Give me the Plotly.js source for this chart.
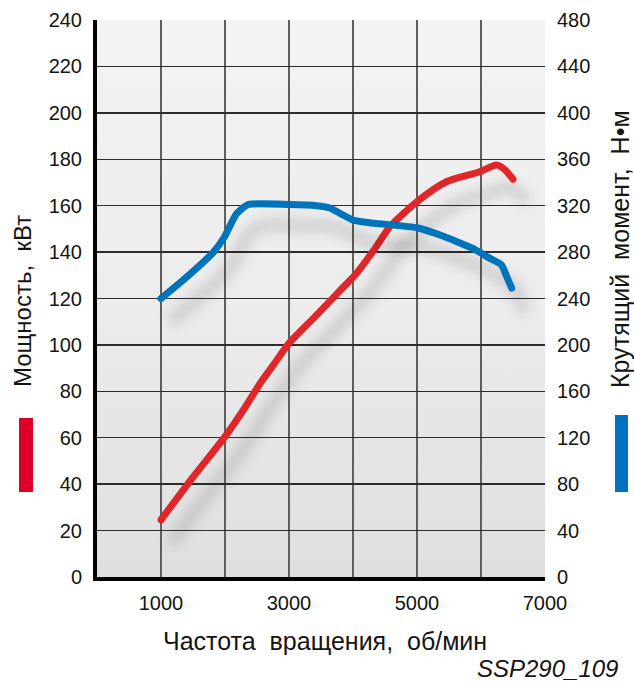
<!DOCTYPE html>
<html>
<head>
<meta charset="utf-8">
<script src="https://cdn.plot.ly/plotly-3.0.1.min.js"></script>
<style>
  html, body { margin: 0; padding: 0; background: #ffffff; }
  #chart { width: 634px; height: 682px; }
  .scatterlayer .js-line { stroke-linecap: round !important; stroke-linejoin: round !important; }
</style>
</head>
<body>
<div id="chart"></div>
<script>
// Engine speed, rpm (power curve)
const rpmPower = [1000, 1500, 2000, 2300, 2550, 2760, 3000, 3400, 3800, 4060, 4330, 4580, 5000, 5460, 5980, 6245, 6375, 6500];
// Power, kW
const powerKW = [24.6, 43, 60.5, 72.5, 83.5, 91.5, 100.7, 112, 123.5, 131, 141, 151, 161.7, 170.3, 174.6, 177.5, 175.4, 171.4];
// Engine speed, rpm (torque curve)
const rpmTorque = [1000, 1350, 1820, 1990, 2180, 2360, 3000, 3430, 3640, 3810, 4000, 4330, 5000, 5360, 5880, 6140, 6320, 6400, 6480];
// Torque, N·m
const torqueNm = [240, 256, 280, 293, 313, 321, 321, 320, 318, 313, 307.6, 304.8, 301, 294.7, 283, 274.6, 269, 259, 249];

const xTickVals = [1000, 3000, 5000, 7000];
const xTickText = ['1000', '3000', '5000', '7000'];

const labels = {
  x: 'Частота  вращения,  об/мин',
  yLeft: 'Мощность,  кВт',
  yRight: 'Крутящий  момент,  Н•м',
  code: 'SSP290_109'
};

const RED = '#e1262b';
const BLUE = '#0073bb';
const FONT = 'Liberation Sans, Arial, sans-serif';
const TXT = '#141414';

const traces = [
  {
    x: rpmTorque, y: torqueNm, yaxis: 'y2', type: 'scatter', mode: 'lines',
    line: { color: BLUE, width: 7, shape: 'spline', smoothing: 0.5 },
    hoverinfo: 'skip', showlegend: false
  },
  {
    x: rpmPower, y: powerKW, type: 'scatter', mode: 'lines',
    line: { color: RED, width: 7, shape: 'spline', smoothing: 0.7 },
    hoverinfo: 'skip', showlegend: false
  }
];

const gridX = { color: '#5e5e5e', width: 1.6 };
const gridY = { color: '#2c2c2c', width: 1.4 };

const layout = {
  width: 634, height: 682,
  margin: { l: 97, r: 89, t: 20, b: 105 },
  paper_bgcolor: '#ffffff',
  plot_bgcolor: '#ebebeb',
  showlegend: false,
  font: { family: FONT, size: 20, color: TXT },
  xaxis: {
    range: [0, 7000], tickvals: xTickVals, ticktext: xTickText,
    showgrid: true, gridcolor: gridX.color, gridwidth: gridX.width,
    minor: { dtick: 1000, tick0: 0, showgrid: true, gridcolor: gridX.color, gridwidth: gridX.width, ticks: '' },
    showline: true, linecolor: '#000000', linewidth: 4,
    zeroline: false, ticks: '', ticklabelstandoff: 5,
    tickfont: { family: FONT, size: 20, color: TXT },
    fixedrange: true
  },
  yaxis: {
    range: [0, 240], dtick: 20, tick0: 0,
    showgrid: true, gridcolor: gridY.color, gridwidth: gridY.width,
    showline: true, linecolor: '#000000', linewidth: 4,
    zeroline: false, ticks: '', ticklabelstandoff: 7,
    tickfont: { family: FONT, size: 20, color: TXT },
    fixedrange: true
  },
  yaxis2: {
    range: [0, 480], dtick: 40, tick0: 0, overlaying: 'y', side: 'right',
    showgrid: false, showline: false, zeroline: false, ticks: '', ticklabelstandoff: 11,
    tickfont: { family: FONT, size: 20, color: TXT },
    fixedrange: true
  },
  shapes: [
    { type: 'rect', xref: 'paper', yref: 'paper', x0: -0.1741, x1: -0.1429, y0: 0.1526, y1: 0.2855,
      fillcolor: '#de0029', line: { width: 0 } },
    { type: 'rect', xref: 'paper', yref: 'paper', x0: 1.1563, x1: 1.1853, y0: 0.1526, y1: 0.2908,
      fillcolor: '#0070c0', line: { width: 0 } }
  ],
  annotations: [
    { text: labels.yLeft, xref: 'paper', yref: 'paper', x: -0.1674, y: 0.4955,
      xanchor: 'center', yanchor: 'middle', textangle: -90, showarrow: false,
      font: { family: FONT, size: 24, color: TXT } },
    { text: labels.yRight, xref: 'paper', yref: 'paper', x: 1.1674, y: 0.5889,
      xanchor: 'center', yanchor: 'middle', textangle: -90, showarrow: false,
      font: { family: FONT, size: 25, color: TXT } },
    { text: labels.x, xref: 'paper', yref: 'paper', x: 0.509, y: -0.1149,
      xanchor: 'center', yanchor: 'middle', showarrow: false,
      font: { family: FONT, size: 25, color: TXT } },
    { text: '<i>' + labels.code + '</i>', xref: 'paper', yref: 'paper', x: 1.1674, y: -0.1634,
      xanchor: 'right', yanchor: 'middle', showarrow: false,
      font: { family: FONT, size: 24, color: TXT } }
  ]
};

Plotly.newPlot('chart', traces, layout, { staticPlot: true, displayModeBar: false }).then(function (gd) {
  const svgNS = 'http://www.w3.org/2000/svg';
  const svg = gd.querySelector('svg.main-svg');
  let defs = svg.querySelector('defs');
  if (!defs) { defs = document.createElementNS(svgNS, 'defs'); svg.insertBefore(defs, svg.firstChild); }

  // background gradient
  const grad = document.createElementNS(svgNS, 'linearGradient');
  grad.setAttribute('id', 'bgGrad');
  grad.setAttribute('x1', '0'); grad.setAttribute('y1', '0');
  grad.setAttribute('x2', '0'); grad.setAttribute('y2', '1');
  [['0', '#f3f3f3'], ['0.5', '#ececec'], ['1', '#dfdfdf']].forEach(function (s) {
    const st = document.createElementNS(svgNS, 'stop');
    st.setAttribute('offset', s[0]); st.setAttribute('stop-color', s[1]);
    grad.appendChild(st);
  });
  defs.appendChild(grad);
  const bg = svg.querySelector('.bglayer rect.bg');
  if (bg) { bg.style.fill = 'url(#bgGrad)'; }

  // drop shadow filter for curves
  const f = document.createElementNS(svgNS, 'filter');
  f.setAttribute('id', 'curveShadow');
  f.setAttribute('x', '-0.3'); f.setAttribute('y', '-0.3');
  f.setAttribute('width', '1.7'); f.setAttribute('height', '1.8');
  f.innerHTML =
    '<feGaussianBlur in="SourceAlpha" stdDeviation="7" result="b"/>' +
    '<feOffset in="b" dx="12" dy="21" result="o"/>' +
    '<feFlood flood-color="#000000" flood-opacity="0.24" result="c"/>' +
    '<feComposite in="c" in2="o" operator="in" result="s"/>' +
    '<feMerge><feMergeNode in="s"/><feMergeNode in="SourceGraphic"/></feMerge>';
  defs.appendChild(f);
  svg.querySelectorAll('.scatterlayer .trace path.js-line').forEach(function (p) {
    p.setAttribute('filter', 'url(#curveShadow)');
  });
});
</script>
</body>
</html>
